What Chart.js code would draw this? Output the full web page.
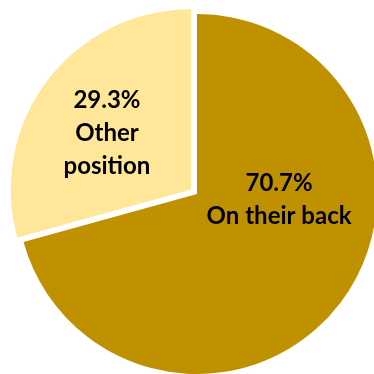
<!DOCTYPE html>
<html>
<head>
<meta charset="utf-8">
<script src="https://cdn.jsdelivr.net/npm/chart.js@4/dist/chart.umd.min.js"></script>
<style>
  html, body { margin: 0; padding: 0; background: #fff; }
  canvas { display: block; }
</style>
</head>
<body>
<canvas id="c" width="374" height="374"></canvas>
<script>
const categories = ['On their back', 'Other position'];
const shares = [70.7, 29.3];
const sliceColors = ['#BF9000', '#FFE699'];

// label anchor, as a fraction of radius from each slice's own centre
const labelAnchors = [[0.456, 0.033], [-0.467, -0.314]];
const LABEL_FONT = 'bold 24px Lato, "Open Sans", sans-serif';
const LINE_H = 33;

const sliceLabels = {
  id: 'slice-labels',
  afterDatasetsDraw(chart) {
    const { ctx } = chart;
    const arcs = chart.getDatasetMeta(0).data;
    ctx.save();
    ctx.fillStyle = '#000';
    ctx.font = LABEL_FONT;
    ctx.textAlign = 'center';
    ctx.textBaseline = 'middle';
    arcs.forEach((arc, i) => {
      const { x, y, outerRadius, startAngle, endAngle } = arc.getProps(['x', 'y', 'outerRadius', 'startAngle', 'endAngle']);
      const mid = (startAngle + endAngle) / 2;
      // Chart.js moves an arc by offset / 4
      const off = (arc.options.offset || 0) / 4;
      const cx = x + Math.cos(mid) * off + labelAnchors[i][0] * outerRadius;
      const cy = y + Math.sin(mid) * off + labelAnchors[i][1] * outerRadius;
      let lines = [shares[i].toFixed(1) + '%'];
      if (i === 1) lines = lines.concat(categories[i].split(' '));
      else lines.push(categories[i]);
      const top = cy - (lines.length - 1) * LINE_H / 2;
      lines.forEach((t, k) => ctx.fillText(t, cx, top + k * LINE_H));
    });
    ctx.restore();
  }
};

new Chart(document.getElementById('c'), {
  type: 'pie',
  data: {
    labels: categories,
    datasets: [{
      data: shares,
      backgroundColor: sliceColors,
      borderWidth: 0,
      offset: [0, 30],
      radius: 180,
      clip: false
    }]
  },
  options: {
    responsive: false,
    animation: false,
    layout: { padding: { left: 20, top: 14, right: 0, bottom: 0 } },
    plugins: {
      legend: { display: false },
      tooltip: { enabled: false }
    }
  },
  plugins: [sliceLabels]
});
</script>
</body>
</html>
